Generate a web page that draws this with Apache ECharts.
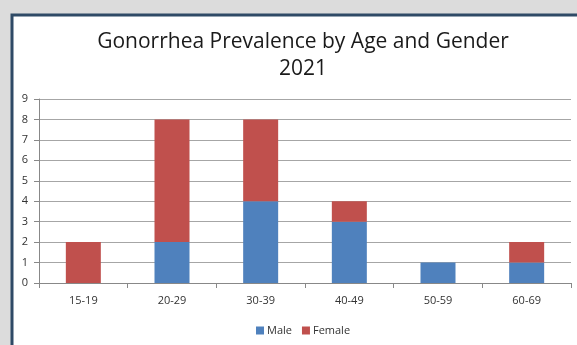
<!DOCTYPE html>
<html>
<head>
<meta charset="utf-8">
<script src="https://cdn.jsdelivr.net/npm/echarts@6/dist/echarts.min.js"></script>
<style>
    html, body { margin: 0; padding: 0; background: #dcdcdc; overflow: hidden; }
    #chart { width: 577px; height: 345px; }
</style>
</head>
<body>
<div id="chart"></div>
<script>
    var ageGroups = ['15-19', '20-29', '30-39', '40-49', '50-59', '60-69'];
    var maleCases = [0, 2, 4, 3, 1, 1];
    var femaleCases = [2, 6, 4, 1, 0, 1];
    var yTicks = [0, 9, 1]; // min, max, interval

    var chart = echarts.init(document.getElementById('chart'));

    var option = {
        backgroundColor: '#dcdcdc',
        textStyle: { fontFamily: 'Open Sans' },
        // white panel with dark border on top and left
        graphic: [{
            type: 'rect',
            shape: { x: 12, y: 15, width: 600, height: 360 },
            style: { fill: '#ffffff', stroke: '#2f4a66', lineWidth: 3 },
            z: -10
        }],
        title: {
            text: 'Gonorrhea Prevalence by Age and Gender\n2021',
            left: 298,
            textAlign: 'center',
            top: 24,
            textStyle: {
                fontFamily: 'Open Sans',
                fontWeight: 'normal',
                fontSize: 21,
                lineHeight: 27,
                color: '#1a1a1a'
            }
        },
        legend: {
            data: ['Male', 'Female'],
            left: 251,
            top: 320,
            itemWidth: 8,
            itemHeight: 8,
            itemGap: 10,
            icon: 'rect',
            textStyle: { fontSize: 11, color: '#333', padding: [0, 0, 0, -2] }
        },
        grid: {
            left: 39,
            right: 6,
            top: 99,
            bottom: 62
        },
        xAxis: {
            type: 'category',
            data: ageGroups,
            axisLine: { lineStyle: { color: '#888' } },
            axisTick: { show: true, alignWithLabel: false, length: 5, lineStyle: { color: '#888' } },
            axisLabel: { color: '#333', fontSize: 11, margin: 12 }
        },
        yAxis: {
            type: 'value',
            min: yTicks[0],
            max: yTicks[1],
            interval: yTicks[2],
            axisLine: { show: true, lineStyle: { color: '#888' } },
            axisTick: { show: true, length: 5, lineStyle: { color: '#888' } },
            axisLabel: { color: '#333', fontSize: 11, margin: 11 },
            splitLine: { lineStyle: { color: '#a6a6a6' } }
        },
        series: [{
            name: 'Male',
            type: 'bar',
            stack: 'total',
            barWidth: 35,
            data: maleCases,
            itemStyle: { color: '#4f81bd' }
        }, {
            name: 'Female',
            type: 'bar',
            stack: 'total',
            barWidth: 35,
            data: femaleCases,
            itemStyle: { color: '#c0504d' }
        }]
    };

    chart.setOption(option);
</script>
</body>
</html>
